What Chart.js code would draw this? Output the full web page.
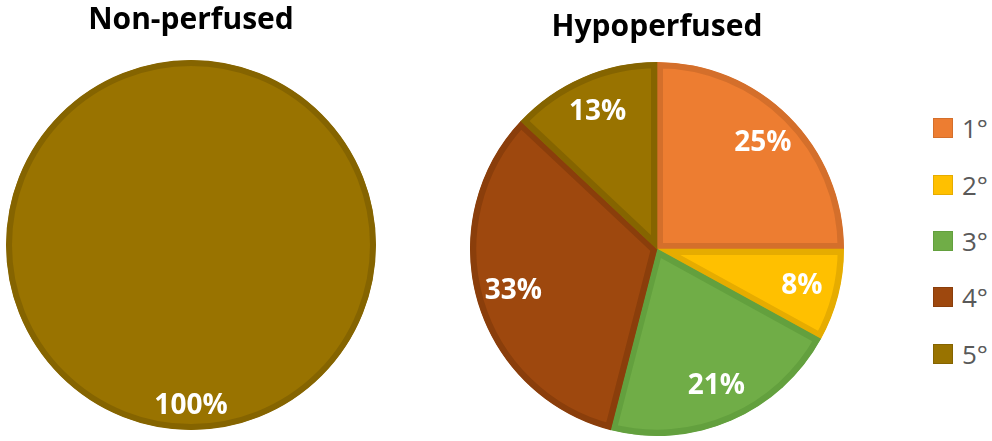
<!DOCTYPE html>
<html>
<head>
<meta charset="utf-8">
<script src="https://cdn.jsdelivr.net/npm/chart.js@4.4.1/dist/chart.umd.min.js"></script>
<style>
    body { margin: 0; background: #fff; width: 992px; height: 441px; overflow: hidden; position: relative; font-family: "Open Sans", sans-serif; }
    .box { position: absolute; }
    #legend { position: absolute; left: 933px; top: 0; }
    #legend .item { position: absolute; left: 0; height: 20px; white-space: nowrap; }
    #legend .sw { position: absolute; left: 0; top: 0; width: 18px; height: 18px; border: 1px solid; }
    #legend .txt { position: absolute; left: 29px; top: -8px; font-size: 26px; line-height: 36px; color: #595959; }
</style>
</head>
<body>
<div class="box" style="left:0px;top:0px;width:382px;height:441px;"><canvas id="nonPerfCanvas"></canvas></div>
<div class="box" style="left:464px;top:0px;width:392px;height:441px;"><canvas id="hypoPerfCanvas"></canvas></div>
<div id="legend"></div>
<script>
var grades = ['1°', '2°', '3°', '4°', '5°'];
var nonPerfused = [0, 0, 0, 0, 100];
var hypoperfused = [25, 8, 21, 33, 13];
var fillColors = ['#ED7D31', '#FFC000', '#70AD47', '#9E480E', '#997300'];
var edgeColors = ['#D46F2B', '#E6AC00', '#63A03E', '#8A3E0B', '#856400'];
var legendTops = [118, 175, 231, 287, 344];
var edgeWidth = 6;

function sum(arr) {
    return arr.reduce(function (a, b) { return a + b; }, 0);
}

// a slice that is the whole pie gets its edge as a plain ring (no radial seam)
var fullRing = {
    id: 'fullRing',
    afterDatasetsDraw: function (chart) {
        var ctx = chart.ctx;
        var values = chart.data.datasets[0].data;
        var total = sum(values);
        chart.getDatasetMeta(0).data.forEach(function (arc, i) {
            if (values[i] !== total) return;
            var p = arc.getProps(['x', 'y', 'outerRadius'], true);
            ctx.save();
            ctx.strokeStyle = edgeColors[i];
            ctx.lineWidth = edgeWidth;
            ctx.beginPath();
            ctx.arc(p.x, p.y, p.outerRadius - edgeWidth / 2, 0, Math.PI * 2);
            ctx.stroke();
            ctx.restore();
        });
    }
};

// white % labels inside the slices
var sliceLabels = {
    id: 'sliceLabels',
    afterDatasetsDraw: function (chart, args, opts) {
        var ctx = chart.ctx;
        var meta = chart.getDatasetMeta(0);
        var values = chart.data.datasets[0].data;
        ctx.save();
        ctx.fillStyle = '#ffffff';
        ctx.font = 'bold 28px "Open Sans"';
        ctx.textAlign = 'center';
        ctx.textBaseline = 'middle';
        meta.data.forEach(function (arc, i) {
            if (!values[i]) return;
            var p = arc.getProps(['x', 'y', 'startAngle', 'endAngle', 'outerRadius'], true);
            var mid = (p.startAngle + p.endAngle) / 2;
            var r = p.outerRadius * opts.radius;
            ctx.fillText(values[i] + '%', p.x + Math.cos(mid) * r, p.y + Math.sin(mid) * r);
        });
        ctx.restore();
    }
};

function makePie(canvasId, title, values, titlePad, layoutPad, labelRadius) {
    var total = sum(values);
    return new Chart(document.getElementById(canvasId), {
        type: 'pie',
        data: {
            labels: grades,
            datasets: [{
                data: values,
                backgroundColor: fillColors,
                borderColor: edgeColors,
                borderWidth: function (c) { return c.raw && c.raw < total ? edgeWidth : 0; },
                borderAlign: 'inner',
                hoverOffset: 0
            }]
        },
        options: {
            responsive: true,
            maintainAspectRatio: false,
            animation: false,
            events: [],
            layout: { padding: layoutPad },
            plugins: {
                legend: { display: false },
                tooltip: { enabled: false },
                title: {
                    display: true,
                    text: title,
                    color: '#000000',
                    font: { family: 'Open Sans', size: 30, weight: 'bold', lineHeight: 1.2 },
                    padding: titlePad
                },
                sliceLabels: { radius: labelRadius }
            }
        },
        plugins: [fullRing, sliceLabels]
    });
}

makePie('nonPerfCanvas', 'Non-perfused', nonPerfused, { top: 2, bottom: 22 }, { left: 0, right: 0, top: 0, bottom: 11 }, 0.87);
makePie('hypoPerfCanvas', 'Hypoperfused', hypoperfused, { top: 9, bottom: 17 }, { left: 3, right: 9, top: 0, bottom: 5 }, 0.8);

var legend = document.getElementById('legend');
grades.forEach(function (g, i) {
    var item = document.createElement('div');
    item.className = 'item';
    item.style.top = legendTops[i] + 'px';
    item.innerHTML = '<span class="sw" style="background:' + fillColors[i] + ';border-color:' + edgeColors[i] + '"></span><span class="txt">' + g + '</span>';
    legend.appendChild(item);
});
</script>
</body>
</html>
